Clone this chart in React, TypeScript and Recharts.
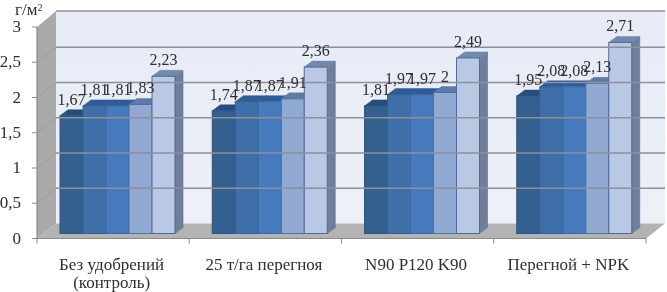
import React from "react";
import { ComposedChart, Bar, XAxis, YAxis, LabelList, ReferenceArea, ReferenceLine } from "recharts";

const categories = ["Без удобрений\n(контроль)", "25 т/га перегноя", "N90 P120 K90", "Перегной + NPK"];
const series1 = [1.67, 1.74, 1.81, 1.95];
const series2 = [1.81, 1.87, 1.97, 2.08];
const series3 = [1.81, 1.87, 1.97, 2.08];
const series4 = [1.83, 1.91, 2, 2.13];
const series5 = [2.23, 2.36, 2.49, 2.71];
const yTicks = [0, 0.5, 1, 1.5, 2, 2.5, 3];
const gridTicks = [0.5, 1, 1.5, 2, 2.5];

const seriesList = [
  { key: "s1", values: series1, front: "#33608f", top: "#264d7e", edge: "#2c5484" },
  { key: "s2", values: series2, front: "#3f6fa8", top: "#2f5c96", edge: "#34608f" },
  { key: "s3", values: series3, front: "#4779bd", top: "#2f5c96", edge: "#3c6aa3" },
  { key: "s4", values: series4, front: "#92a9d1", top: "#5f7aa6", edge: "#4f6f9f" },
  { key: "s5", values: series5, front: "#b9c9e3", top: "#7189ad", edge: "#4f6a96" },
];

const rows = categories.map((name, i) => {
  const row: Record<string, string | number> = { name };
  seriesList.forEach((s) => { row[s.key] = s.values[i]; });
  return row;
});

const SERIF = "'Liberation Serif', serif";
const TEXT = "#2f2f2f";
const DX = 8, DY = 6;      // bar depth
const SHIFT_F = 5;         // front plane relative to bars
const BACK_X = 14, BACK_Y = 10; // back wall relative to bars

const fmt = (v: number) => String(v).replace(".", ",");

const Bar3D = (color: { front: string; top: string; edge: string }) => (p: any) => {
  const { x, y, width: w, height: h } = p;
  return (
    <g>
      <polygon points={`${x + w},${y} ${x + w + DX},${y - DY} ${x + w + DX},${y + h - DY} ${x + w},${y + h}`} fill="#6f7f99" stroke="#5f6f8c" strokeWidth={0.6} />
      <polygon points={`${x},${y} ${x + DX},${y - DY} ${x + w + DX},${y - DY} ${x + w},${y}`} fill={color.top} stroke={color.top} strokeWidth={0.5} />
      <rect x={x} y={y} width={w} height={h} fill={color.front} stroke={color.edge} strokeWidth={1} />
    </g>
  );
};

const Walls = (p: any) => {
  const { x, y, width: w, height: h } = p;
  const b = y + h, r = x + w;
  const fx = x - SHIFT_F, fb = b + SHIFT_F, ft = y + SHIFT_F;
  const bx = x + BACK_X, bb = b - BACK_Y, bt = y - BACK_Y - 1;
  const bandW = w / 4;
  return (
    <g>
      <defs>
        <linearGradient id="wall" x1="0" y1="0" x2="0" y2="1">
          <stop offset="0" stopColor="#e6ebf6" />
          <stop offset="1" stopColor="#edf0f7" />
        </linearGradient>
      </defs>
      <rect x={bx} y={bt} width={r + BACK_X - bx} height={bb - bt} fill="url(#wall)" />
      <line x1={bx} y1={bt} x2={r + BACK_X} y2={bt} stroke="#8c8f9e" strokeWidth={1.4} />
      <polygon points={`${fx},${ft} ${bx},${bt} ${bx},${bb} ${fx},${fb}`} fill="#a9a9a9" />
      <polygon points={`${fx},${fb} ${bx},${bb} ${r + BACK_X},${bb} ${r - SHIFT_F},${fb}`} fill="#b3b3b3" />
      <line x1={fx} y1={ft} x2={fx} y2={fb} stroke="#8b8b8b" strokeWidth={1.2} />
      <line x1={fx} y1={fb} x2={r - SHIFT_F} y2={fb} stroke="#8b8b8b" strokeWidth={1.2} />
      {[0, 1, 2, 3, 4].map((i) => (
        <line key={i} x1={fx + i * bandW} y1={fb} x2={fx + i * bandW} y2={fb + 5} stroke="#8b8b8b" strokeWidth={1} />
      ))}
    </g>
  );
};

const GridLine = (p: any) => {
  const { x1, y1, x2 } = p;
  const y = y1 - BACK_Y;
  return (
    <g>
      <line x1={x1 + BACK_X} y1={y} x2={x2 + BACK_X} y2={y} stroke="#8c8f9e" strokeWidth={1.4} />
      <line x1={x1 - SHIFT_F} y1={y1 + SHIFT_F} x2={x1 + BACK_X} y2={y} stroke="#999" strokeWidth={0.8} />
    </g>
  );
};

const XTick = (p: any) => {
  const { x, y, payload } = p;
  const lines = String(payload.value).split("\n");
  const cx = x - SHIFT_F - 1.5;
  return (
    <text x={cx} y={y + 28} textAnchor="middle" fontFamily={SERIF} fontSize={17} fill={TEXT}>
      {lines.map((l, i) => (
        <tspan key={i} x={cx} dy={i === 0 ? 0 : 18}>{l}</tspan>
      ))}
    </text>
  );
};

const YTick = (p: any) => {
  const { x, y, payload } = p;
  return (
    <g>
      <line x1={32} x2={37} y1={y + SHIFT_F} y2={y + SHIFT_F} stroke="#8b8b8b" strokeWidth={1} />
      <text x={21} y={y + SHIFT_F + 5} textAnchor="end" fontFamily={SERIF} fontSize={17} fill={TEXT}>{fmt(payload.value)}</text>
    </g>
  );
};

const BarLabel = (p: any) => {
  const { x, y, width, value } = p;
  return (
    <text x={x + width / 2} y={y - 11} textAnchor="middle" fontFamily={SERIF} fontSize={16} fill={TEXT}>
      {fmt(value)}
    </text>
  );
};

export default function App() {
  return (
    <div style={{ position: "absolute", left: 0, top: 0, width: 667, height: 292, background: "#fff", filter: "blur(0.35px)" }}>
      <ComposedChart
        width={667}
        height={292}
        data={rows}
        margin={{ top: 22, right: 16, bottom: 0.5, left: 0 }}
        barCategoryGap={18}
        barGap={0}
      >
        <XAxis dataKey="name" height={58} axisLine={false} tickLine={false} tick={<XTick />} interval={0} />
        <YAxis width={42} domain={[0, 3]} ticks={yTicks} axisLine={false} tickLine={false} tick={<YTick />} interval={0} />
        <ReferenceArea x1={categories[0]} x2={categories[3]} y1={0} y2={3} shape={Walls} ifOverflow="visible" />
        {gridTicks.map((t) => (
          <ReferenceLine key={t} y={t} shape={GridLine} ifOverflow="visible" />
        ))}
        {seriesList.map((s) => (
          <Bar key={s.key} dataKey={s.key} isAnimationActive={false} shape={Bar3D(s)}>
            <LabelList dataKey={s.key} content={<BarLabel />} />
          </Bar>
        ))}
        <text x={15} y={15} fontFamily={SERIF} fontSize={17} fill={TEXT}>
          г/м<tspan dy={-4} fontSize={10}>2</tspan>
        </text>
      </ComposedChart>
    </div>
  );
}
